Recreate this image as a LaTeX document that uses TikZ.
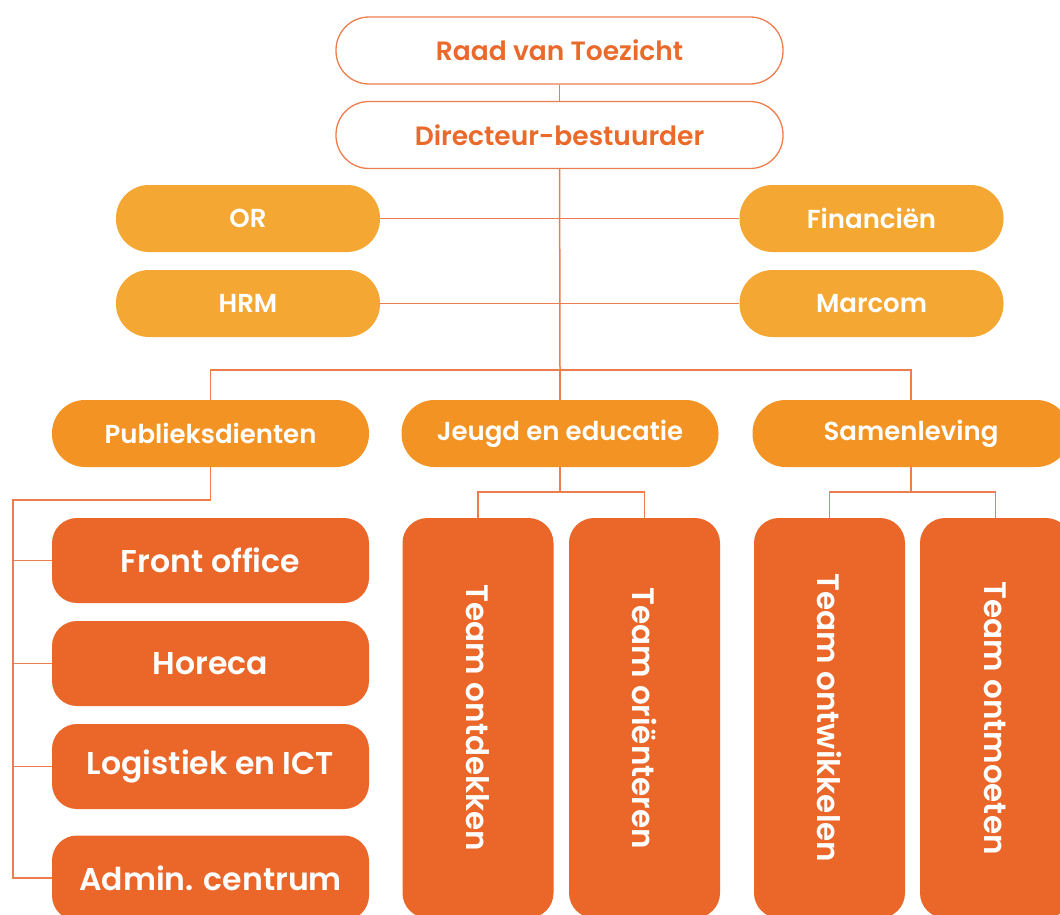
\documentclass[tikz,border=0pt]{standalone}
\usepackage{fontspec}
\setmainfont{Poppins}
\newfontfamily\popsemi{Poppins SemiBold}
\usetikzlibrary{positioning, calc}

\definecolor{lineorange}{HTML}{EE7D4E}
\definecolor{textorange}{HTML}{EA6A2C}
\definecolor{stafforange}{HTML}{F5A733}
\definecolor{deptorange}{HTML}{F39323}
\definecolor{unitorange}{HTML}{EA6729}

\begin{document}
\begin{tikzpicture}[
    x=1pt, y=-1pt,
    board/.style={rectangle, draw=lineorange, line width=1.3pt, fill=white, rounded corners=33pt, minimum width=447pt, minimum height=67pt, text=textorange, font=\popsemi\fontsize{26.5}{30}\selectfont},
    staff/.style={rectangle, fill=stafforange, rounded corners=33pt, minimum width=264pt, minimum height=67pt, text=white, font=\popsemi\fontsize{26}{30}\selectfont},
    dept/.style={staff, fill=deptorange, minimum width=317pt},
    unit/.style={rectangle, fill=unitorange, rounded corners=25pt, minimum width=317pt, minimum height=85pt, text=white, font=\popsemi\fontsize{31.5}{35}\selectfont},
    team/.style={unit, minimum width=400pt, minimum height=151pt, rotate=-90, font=\popsemi\fontsize{31}{35}\selectfont},
    link/.style={draw=lineorange, line width=1.5pt}
]
    \useasboundingbox (0,0) rectangle (1060,915);
    \clip (0,0) rectangle (1060,915);

    % Board
    \node[board] (rvt) at (559.5,50.5) {Raad van Toezicht};
    \node[board] (dir) at (559.5,135) {Directeur-bestuurder};

    % Staff
    \node[staff] (or) at (248,218.5) {OR};
    \node[staff] (hrm) at (248,303.5) {HRM};
    \node[staff] (fin) at (871.5,218.5) {Financiën};
    \node[staff] (mar) at (871.5,303.5) {Marcom};

    % Departments
    \coordinate (hub) at (560,370);
    \node[dept] (pub) at (210.5,433.5) {Publieksdienten};
    \node[dept] (jeu) at (560,433.5) {Jeugd en educatie};
    \node[dept] (sam) at (911,433.5) {Samenleving};

    % Units
    \foreach \u/\y/\txt in {fo/560.5/Front office, hor/663.5/Horeca, log/766.5/Logistiek en ICT, adm/878/Admin. centrum} {
        \node[unit] (\u) at (210.5,\y) {\txt};
    }

    % Teams
    \foreach \t/\x/\txt in {ontd/478/Team ontdekken, orie/644.5/Team oriënteren, ontw/829.5/Team ontwikkelen, ontm/995.5/Team ontmoeten} {
        \node[team] (\t) at (\x,718) {\txt};
    }

    % Connections
    \draw[link] (rvt) -- (dir);
    \draw[link] (dir) -- (hub);
    \draw[link] (or) -- (fin);
    \draw[link] (hrm) -- (mar);
    \draw[link] (pub) |- (hub) -| (sam);
    \draw[link] (hub) -- (jeu);

    \coordinate (pubbus) at (13,500);
    \draw[link] (pub) |- (pubbus) |- (adm);
    \foreach \u in {fo,hor,log} {
        \draw[link] (pubbus |- \u) -- (\u);
    }

    \coordinate (jbus) at (560,492);
    \coordinate (sbus) at (911,492);
    \draw[link] (jeu) -- (jbus);
    \draw[link] (ontd) |- (jbus) -| (orie);
    \draw[link] (sam) -- (sbus);
    \draw[link] (ontw) |- (sbus) -| (ontm);

\end{tikzpicture}
\end{document}
